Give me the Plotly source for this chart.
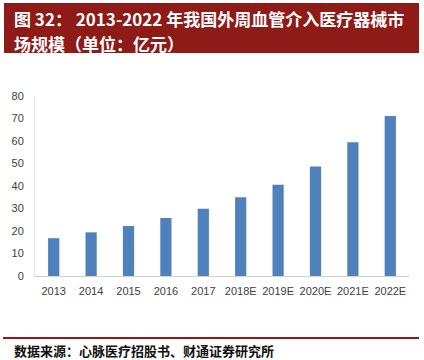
import plotly.graph_objects as go

categories = ["2013", "2014", "2015", "2016", "2017", "2018E", "2019E", "2020E", "2021E", "2022E"]
values = [16.8, 19.4, 22.2, 25.8, 29.9, 35.0, 40.6, 48.7, 59.4, 71.1]
y_ticks = [0, 10, 20, 30, 40, 50, 60, 70, 80]
title_line1 = "图 32： 2013-2022 年我国外周血管介入医疗器械市"
title_line2 = "场规模（单位：亿元）"
source_text = "数据来源：心脉医疗招股书、财通证券研究所"

RED = "#8E1B18"
L, R, T, B = 35, 15, 96, 84
W, H = 424, 360
PW, PH = W - L - R, H - T - B

def px(x):
    return (x - L) / PW

def py(y):
    return (H - B - y) / PH

fig = go.Figure()
fig.add_trace(go.Bar(x=categories, y=values, marker_color="#4F81BD", marker_line_width=0))

fig.update_layout(
    width=W, height=H,
    margin=dict(l=L, r=R, t=T, b=B),
    paper_bgcolor="white", plot_bgcolor="white",
    bargap=0.7,
    showlegend=False,
    font=dict(family="Arial, Liberation Sans, sans-serif", size=11, color="#404040"),
)
fig.update_yaxes(range=[0, 80], tickvals=y_ticks, showgrid=False, zeroline=False,
                 showline=True, linecolor="#E4E4E4", linewidth=1,
                 ticklabelstandoff=8, tickfont=dict(size=11, color="#404040"))
fig.update_xaxes(showgrid=False, showline=True, linecolor="#D0D0D0", linewidth=1,
                 ticklabelstandoff=5, tickfont=dict(size=11, color="#404040"))

# Title box
fig.add_shape(type="rect", xref="paper", yref="paper",
              x0=px(4), x1=px(419), y0=py(53), y1=py(3),
              fillcolor=RED, line_width=0, layer="below")
fig.add_annotation(xref="paper", yref="paper", x=px(12), y=py(18), xanchor="left", yanchor="middle",
                   text="<b>" + title_line1 + "</b>", showarrow=False,
                   font=dict(family="Noto Sans CJK SC", size=17, color="white"))
fig.add_annotation(xref="paper", yref="paper", x=px(12), y=py(43.5), xanchor="left", yanchor="middle",
                   text="<b>" + title_line2 + "</b>", showarrow=False,
                   font=dict(family="Noto Sans CJK SC", size=17, color="white"))

# Source line and text
fig.add_shape(type="line", xref="paper", yref="paper",
              x0=px(3), x1=px(419), y0=py(338), y1=py(338),
              line=dict(color=RED, width=2))
fig.add_annotation(xref="paper", yref="paper", x=px(12), y=py(350), xanchor="left", yanchor="middle",
                   text="<b>" + source_text + "</b>", showarrow=False,
                   font=dict(family="Noto Sans CJK SC", size=13, color="#111111"))

fig.write_html("out.html", config={"displayModeBar": False},
               post_script="document.body.style.margin='0';document.body.style.padding='0';document.body.style.overflow='hidden';")
